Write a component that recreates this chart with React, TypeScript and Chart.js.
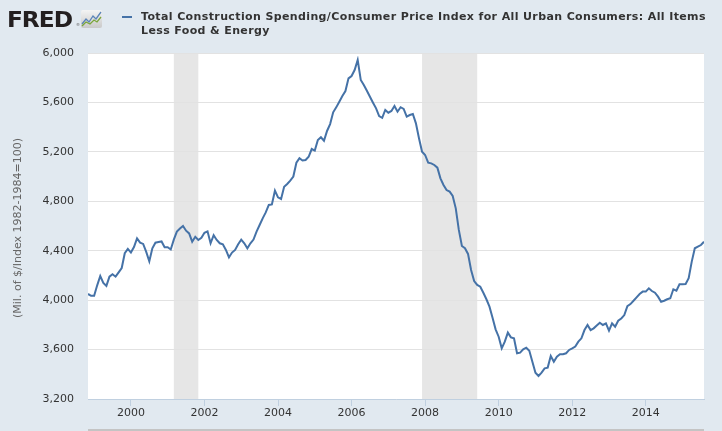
import React, { useEffect, useRef } from "react";
import { Chart, registerables } from "chart.js";

Chart.register(...registerables);

// Monthly series, Nov 1998 .. Aug 2015
const START_YEAR = 1998 + 10 / 12;
const values: number[] = [
  4050, 4035, 4035, 4120, 4195, 4140, 4115, 4190, 4210, 4190, 4225, 4260,
  4380, 4415, 4385, 4430, 4500, 4465, 4455, 4390, 4315, 4420, 4465, 4470,
  4475, 4428, 4428, 4410, 4490, 4555, 4580, 4600, 4562, 4540, 4473, 4513,
  4487, 4505, 4545, 4557, 4460, 4525, 4487, 4460, 4452, 4406, 4347, 4385,
  4406, 4452, 4490, 4460, 4420, 4460, 4490, 4555, 4608, 4662, 4710, 4770,
  4775, 4886, 4832, 4818, 4918, 4940, 4967, 5000, 5112, 5148, 5130, 5134,
  5160, 5223, 5210, 5296, 5318, 5290, 5369, 5425, 5520, 5560, 5606, 5652,
  5692, 5795, 5814, 5862, 5943, 5782, 5741, 5695, 5646, 5598, 5552, 5490,
  5476, 5539, 5517, 5531, 5571, 5525, 5561, 5547, 5485, 5498, 5506, 5431,
  5310, 5201, 5175, 5112, 5107, 5094, 5072, 4986, 4932, 4891, 4878, 4843,
  4743, 4568, 4438, 4420, 4374, 4244, 4155, 4123, 4109, 4060, 4007, 3947,
  3858, 3764, 3704, 3610, 3664, 3737, 3699, 3691, 3570, 3575, 3602, 3615,
  3590, 3502, 3413, 3386, 3413, 3448, 3454, 3548, 3502, 3543, 3562, 3562,
  3570, 3597, 3610, 3624, 3664, 3691, 3758, 3799, 3758, 3772, 3795, 3817,
  3799, 3812, 3753, 3812, 3785, 3833, 3852, 3879, 3952, 3968, 3995, 4023,
  4050, 4069, 4069, 4096, 4074, 4060, 4028, 3987, 3995, 4007, 4015, 4088,
  4077, 4128, 4128, 4131, 4177, 4312, 4420, 4433, 4446, 4473,
];
const yTicks: number[] = [3200, 3600, 4000, 4400, 4800, 5200, 5600, 6000];
const xTicks: number[] = [2000, 2002, 2004, 2006, 2008, 2010, 2012, 2014];
const recessionStarts: number[] = [2001 + 2 / 12, 2007 + 11 / 12];
const recessionEnds: number[] = [2001 + 10 / 12, 2009 + 5 / 12];

const titleLine1 =
  "Total Construction Spending/Consumer Price Index for All Urban Consumers: All Items";
const titleLine2 = "Less Food & Energy";
const yTitle = "(Mil. of $/Index 1982-1984=100)";

const FONT = "'DejaVu Sans', Verdana, sans-serif";

export default function App() {
  const ref = useRef<HTMLCanvasElement | null>(null);

  useEffect(() => {
    document.body.style.margin = "0";
    const canvas = ref.current;
    if (!canvas) return;
    const points = values.map((v, i) => ({ x: START_YEAR + i / 12, y: v }));

    const bgPlugin = {
      id: "bgPlugin",
      beforeDraw(chart: any) {
        const { ctx, chartArea, scales } = chart;
        ctx.save();
        ctx.fillStyle = "#ffffff";
        ctx.fillRect(
          chartArea.left,
          chartArea.top,
          chartArea.right - chartArea.left,
          chartArea.bottom - chartArea.top
        );
        ctx.fillStyle = "#e6e6e6";
        recessionStarts.forEach((s, i) => {
          const x0 = scales.x.getPixelForValue(s);
          const x1 = scales.x.getPixelForValue(recessionEnds[i]);
          ctx.fillRect(x0, chartArea.top, x1 - x0, chartArea.bottom - chartArea.top);
        });
        ctx.strokeStyle = "#c4c4c4";
        ctx.lineWidth = 2;
        ctx.beginPath();
        ctx.moveTo(chartArea.left, 430);
        ctx.lineTo(chartArea.right, 430);
        ctx.stroke();
        ctx.restore();
      },
    };

    const chart = new Chart(canvas, {
      type: "line",
      data: {
        datasets: [
          {
            data: points,
            borderColor: "#4572a7",
            borderWidth: 2,
            pointRadius: 0,
            tension: 0,
            fill: false,
          },
        ],
      },
      options: {
        animation: false,
        responsive: false,
        devicePixelRatio: 1,
        layout: { padding: { top: 53, right: 18, left: 0, bottom: 0 } },
        plugins: {
          legend: { display: false },
          tooltip: { enabled: false },
        },
        scales: {
          x: {
            type: "linear",
            min: START_YEAR,
            max: START_YEAR + (values.length - 1) / 12,
            afterBuildTicks: (s: any) => {
              s.ticks = xTicks.map((v) => ({ value: v }));
            },
            afterFit: (s: any) => {
              s.height = 32;
            },
            grid: {
              drawOnChartArea: false,
              drawTicks: true,
              tickLength: 7,
              color: "#c0d0e0",
            },
            border: { display: true, color: "#c0d0e0", width: 1 },
            ticks: {
              autoSkip: false,
              maxRotation: 0,
              padding: 1,
              color: "#333333",
              font: { family: FONT, size: 11 },
              callback: (v: any) => String(v),
            },
          },
          y: {
            min: 3200,
            max: 6000,
            afterBuildTicks: (s: any) => {
              s.ticks = yTicks.map((v) => ({ value: v }));
            },
            afterFit: (s: any) => {
              s.width = 88;
            },
            grid: { drawTicks: false, color: "#e2e2e2", lineWidth: 1 },
            border: { display: false },
            ticks: {
              padding: 14,
              color: "#333333",
              font: { family: FONT, size: 11 },
              callback: (v: any) => Number(v).toLocaleString("en-US"),
            },
          },
        },
      },
      plugins: [bgPlugin],
    } as any);

    return () => chart.destroy();
  }, []);

  return (
    <div
      style={{
        position: "absolute",
        left: 0,
        top: 0,
        width: 722,
        height: 431,
        background: "#e1e9f0",
        overflow: "hidden",
        fontFamily: FONT,
      }}
    >
      <canvas
        ref={ref}
        width={722}
        height={431}
        style={{ position: "absolute", left: 0, top: 0, width: 722, height: 431 }}
      />
      <div
        style={{
          position: "absolute",
          left: 7,
          top: 9,
          fontFamily: "'DejaVu Sans', sans-serif",
          fontWeight: 900,
          fontSize: 22,
          lineHeight: "22px",
          color: "#231f20",
          letterSpacing: "-1px",
          transform: "scaleX(1.06)",
          transformOrigin: "left top",
        }}
      >
        FRED
      </div>
      <div
        style={{
          position: "absolute",
          left: 76,
          top: 23,
          fontSize: 4,
          lineHeight: "4px",
          color: "#555",
        }}
      >
        ®
      </div>
      <svg
        width={21}
        height={18}
        style={{ position: "absolute", left: 81, top: 10 }}
      >
        <defs>
          <linearGradient id="fg" x1="0" y1="0" x2="0" y2="1">
            <stop offset="0" stopColor="#f4f4f4" />
            <stop offset="1" stopColor="#c9c9c9" />
          </linearGradient>
        </defs>
        <rect x={0} y={0} width={21} height={18} rx={2} fill="url(#fg)" />
        <polyline
          points="1,14 5,9 8,12 12,6 15,9 20,2"
          fill="none"
          stroke="#5b84b8"
          strokeWidth={1.3}
        />
        <polyline
          points="1,16 5,12 9,14 13,10 16,12 20,7"
          fill="none"
          stroke="#7aa63c"
          strokeWidth={1.3}
        />
      </svg>
      <div
        style={{
          position: "absolute",
          left: 122,
          top: 16,
          width: 10,
          height: 2,
          background: "#4572a7",
        }}
      />
      <div
        style={{
          position: "absolute",
          left: 141,
          top: 10,
          fontWeight: "bold",
          fontSize: 11,
          lineHeight: "13.5px",
          letterSpacing: "0.38px",
          color: "#333333",
          whiteSpace: "nowrap",
        }}
      >
        {titleLine1}
        <br />
        {titleLine2}
      </div>
      <div
        style={{
          position: "absolute",
          left: 18 - 150,
          top: 228 - 7,
          width: 300,
          height: 14,
          lineHeight: "14px",
          fontSize: 11,
          textAlign: "center",
          color: "#666666",
          transform: "rotate(-90deg)",
          transformOrigin: "center center",
          whiteSpace: "nowrap",
        }}
      >
        {yTitle}
      </div>
    </div>
  );
}
